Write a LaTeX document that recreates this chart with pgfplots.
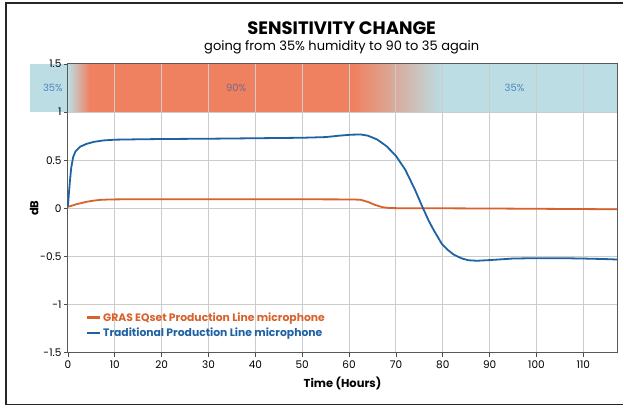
\documentclass[border=0pt]{standalone}
\usepackage{pgfplots}
\pgfplotsset{compat=1.18}
\usepackage{fontspec}
\setmainfont{Poppins}
\definecolor{bandorange}{HTML}{F08160}
\definecolor{bandblue}{HTML}{BCDDE4}
\definecolor{lineblue}{HTML}{1E62A3}
\definecolor{lineorange}{HTML}{D8612C}
\definecolor{lblblue}{HTML}{4F86BF}
\definecolor{lblgray}{HTML}{76688A}
\begin{document}
\begin{tikzpicture}
\path (0pt,0pt) rectangle (624pt,-408pt);
\draw[line width=1.2pt,black!85] (624pt,-3pt) -- (6pt,-3pt) -- (6pt,-405pt) -- (624pt,-405pt);
\node[font=\bfseries\fontsize{18}{22}\selectfont] at (342pt,-28pt) {SENSITIVITY CHANGE};
\node[font=\fontsize{13}{15}\selectfont] at (342pt,-47pt) {going from 35\% humidity to 90 to 35 again};
\begin{axis}[
  set layers,
  scale only axis,
  width=549.7pt, height=289pt,
  at={(68pt,-353pt)}, anchor=south west,
  xmin=0, xmax=117.2, ymin=-1.5, ymax=1.5,
  xtick={0,10,...,110},
  ytick={-1.5,-1,-0.5,0,0.5,1,1.5},
  yticklabels={-1.5,-1,-0.5,0,0.5,1,1.5},
  grid=major,
  major grid style={gray!40, line width=0.9pt},
  axis line style={black!65, line width=0.9pt},
  tick pos=left, tick align=outside,
  major tick length=4pt,
  tick style={black!70, line width=0.8pt},
  /pgf/number format/assume math mode=true,
  ticklabel style={font=\fontsize{10.5}{12}\selectfont},
  xticklabel style={yshift=-1pt},
  yticklabel style={xshift=1pt},
  clip=false,
  xlabel={\textbf{Time (Hours)}},
  ylabel={\textbf{dB}},
  label style={font=\fontsize{11.5}{13}\selectfont},
  xlabel style={yshift=-1pt},
  ylabel style={yshift=-5pt},
  legend style={draw=none, fill=none, at={(axis cs:3.8,-1.06)}, anchor=north west,
    font=\bfseries\fontsize{10.8}{12}\selectfont, row sep=1pt, inner sep=0pt},
  legend cell align=left,
  legend image code/.code={\draw[#1, line width=2.2pt] (-3pt,0pt) -- (10pt,0pt);},
]
\begin{pgfonlayer}{axis background}
\fill[bandblue] (axis cs:-8.1,1) rectangle (axis cs:0,1.5);
\shade[left color=bandblue, right color=bandorange] (axis cs:0,1) rectangle (axis cs:4.7,1.5);
\fill[bandorange] (axis cs:4.6,1) rectangle (axis cs:61,1.5);
\shade[left color=bandorange, right color=bandblue] (axis cs:61,1) rectangle (axis cs:80,1.5);
\fill[bandblue] (axis cs:79.9,1) rectangle (axis cs:117.2,1.5);
\end{pgfonlayer}
\node[text=lblblue, font=\fontsize{10}{11}\selectfont] at (axis cs:-3.2,1.25) {35\%};
\node[text=lblgray, font=\fontsize{10}{11}\selectfont] at (axis cs:35.9,1.25) {90\%};
\node[text=lblblue, font=\fontsize{10}{11}\selectfont] at (axis cs:95.3,1.25) {35\%};
\addplot[lineorange, line width=1.8pt, line join=round] coordinates {
(0,0.015) (1,0.03) (2,0.045) (3,0.056) (4,0.068) (5.5,0.08) (7,0.088) (9,0.092) (15,0.095) (25,0.095) (40,0.094) (55,0.093) (61,0.092) (62.5,0.088) (64,0.067) (65.5,0.036) (67,0.013) (68.5,0.003) (72,0.0) (80,0.0) (90,-0.002) (100,-0.005) (110,-0.008) (117.2,-0.01)};
\addlegendentry{\textcolor{lineorange}{GRAS EQset Production Line microphone}}
\addplot[lineblue, line width=1.8pt, line join=round] coordinates {
(0,0.02) (0.2,0.15) (0.4,0.27) (0.7,0.42) (1.1,0.53) (1.6,0.59) (2.6,0.64) (4,0.67) (5.5,0.69) (7.5,0.705) (10,0.713) (15,0.717) (20,0.72) (30,0.723) (40,0.728) (50,0.733) (55,0.74) (58,0.755) (60.5,0.765) (62.5,0.767) (64,0.755) (66,0.715) (68,0.645) (70,0.545) (72,0.40) (74,0.20) (75.6,0.02) (77,-0.13) (78.1,-0.23) (79.8,-0.37) (81,-0.43) (82.3,-0.48) (84,-0.52) (85.5,-0.54) (87.3,-0.545) (90,-0.538) (92.5,-0.53) (95,-0.522) (100,-0.518) (105,-0.518) (110,-0.522) (115,-0.528) (117.2,-0.532)};
\addlegendentry{\textcolor{lineblue}{Traditional Production Line microphone}}
\end{axis}
\end{tikzpicture}
\end{document}
